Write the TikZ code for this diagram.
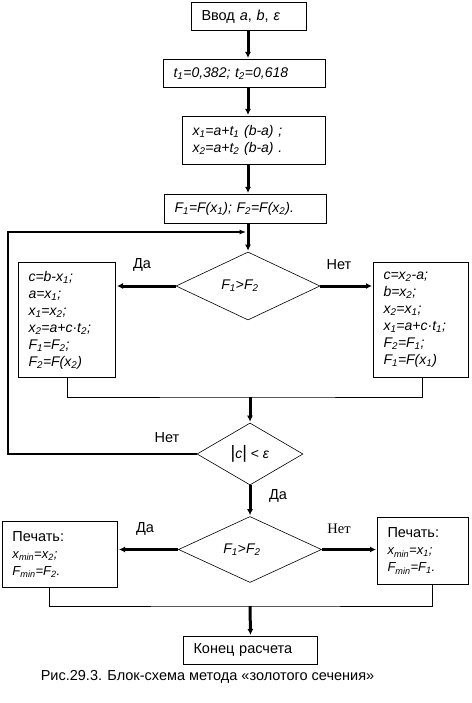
\documentclass[tikz,border=0pt]{standalone}
\usepackage{fontspec}
\setmainfont{Liberation Sans}
\newfontfamily\serifnet{Liberation Serif}
\usetikzlibrary{shapes.geometric,arrows.meta}
\newcommand\sbs[1]{\textsubscript{#1}}
\begin{document}
\begin{tikzpicture}[x=1pt,y=-1pt,
  every node/.style={font=\fontsize{14}{17}\selectfont},
  box/.style={draw,line width=1pt,rectangle,inner xsep=10pt,inner ysep=0pt,anchor=north west,align=left},
  dec/.style={draw,line width=0.6pt,diamond,inner sep=0pt},
  flow/.style={line width=3pt,-{Latex[length=6pt,width=6pt]},shorten >=1pt},
  thinline/.style={line width=1pt},
  loopline/.style={line width=1.5pt,-{Latex[length=7pt,width=5pt]}},
  lab/.style={inner sep=0pt,font=\fontsize{14.5}{17}\selectfont}]
\useasboundingbox (0,0) rectangle (471,703);

\node[box,minimum width=115,text width=95,minimum height=28,font=\fontsize{14.5}{17}\selectfont] (b1) at (191,2) {Ввод \textit{a}, \textit{b}, \textit{ε}};
\node[box,minimum width=162,text width=142,minimum height=28] (b2) at (163,59) {\textit{t\sbs{1}=0,382; t\sbs{2}=0,618}};
\node[box,minimum width=143,text width=123,minimum height=48] (b3) at (182,116) {\textit{x\sbs{1}=a+t\sbs{1} (b-a) ;}\\\textit{x\sbs{2}=a+t\sbs{2} (b-a) .}};
\node[box,minimum width=162,text width=142,minimum height=29] (b4) at (164,194) {\textit{F\sbs{1}=F(x\sbs{1}); F\sbs{2}=F(x\sbs{2}).}};

\node[dec,minimum width=144,minimum height=68] (d1) at (248,286) {\textit{F\sbs{1}}>\textit{F\sbs{2}}\hspace*{16pt}};

\node[box,minimum width=97,text width=77,minimum height=115] (L1) at (18,262) {\textit{c=b-x\sbs{1};}\\\textit{a=x\sbs{1};}\\\textit{x\sbs{1}=x\sbs{2};}\\\textit{x\sbs{2}=a+c·t\sbs{2};}\\\textit{F\sbs{1}=F\sbs{2};}\\\textit{F\sbs{2}=F(x\sbs{2})}};
\node[box,minimum width=95,text width=75,minimum height=115] (R1) at (373,262) {\textit{c=x\sbs{2}-a;}\\\textit{b=x\sbs{2};}\\\textit{x\sbs{2}=x\sbs{1};}\\\textit{x\sbs{1}=a+c·t\sbs{1};}\\\textit{F\sbs{2}=F\sbs{1};}\\\textit{F\sbs{1}=F(x\sbs{1})}};

\node[dec,minimum width=106,minimum height=62] (d2) at (250,454) {{\fontsize{18}{18}\selectfont|}\textit{c}{\fontsize{18}{18}\selectfont|} < \textit{ε}};
\node[dec,minimum width=143,minimum height=66] (d3) at (250,549.5) {\textit{F\sbs{1}}>\textit{F\sbs{2}}\hspace*{16pt}};

\node[box,minimum width=115,text width=95,minimum height=66] (P1) at (2,521) {{\fontsize{14.5}{18}\selectfont Печать:}\\{\fontsize{13}{18}\selectfont\textit{x\sbs{min}=x\sbs{2};}}\\{\fontsize{13}{18}\selectfont\textit{F\sbs{min}=F\sbs{2}.}}};
\node[box,minimum width=91,text width=71,minimum height=67] (P2) at (377,517) {{\fontsize{14.5}{18}\selectfont Печать:}\\{\fontsize{13}{18}\selectfont\textit{x\sbs{min}=x\sbs{1};}}\\{\fontsize{13}{18}\selectfont\textit{F\sbs{min}=F\sbs{1}.}}};

\node[box,minimum width=134,text width=114,minimum height=28,font=\fontsize{14.5}{17}\selectfont] (E) at (183,636) {Конец расчета};

\node[lab] (cap) at (207.5,677) {Рис.29.3. Блок-схема метода «золотого сечения»};

\node[lab] (yes1) at (142,265) {Да};
\node[lab] (no1) at (339,265) {Нет};
\node[lab] (no2) at (167,438) {Нет};
\node[lab] (yes2) at (278,496) {Да};
\node[lab] (yes3) at (145,529) {Да};
\node[lab] (no3) at (339,529) {\serifnet Нет};

\coordinate (m1) at (250,397);
\coordinate (m2) at (250,606);
\coordinate (lp) at (8,232);
\coordinate (lj) at (248,232);

\draw[flow] (b1.south -| lj) -- (b2.north -| lj);
\draw[flow] (b2.south -| lj) -- (b3.north -| lj);
\draw[flow] (b3.south -| lj) -- (b4.north -| lj);
\draw[flow] (b4.south -| lj) -- (d1.north);
\draw[flow] (d1.west) -- (d1.west -| L1.east);
\draw[flow] (d1.east) -- (d1.east -| R1.west);
\draw[thinline] (L1.south) |- (m1) -| ([xshift=1.5]R1.south);
\draw[flow] (m1) -- (d2.north);
\draw[loopline] (d2.west) -| (lp) -- ([xshift=-1.5]lj);
\draw[flow] (d2.south) -- (d3.north);
\draw[flow] (d3.west) -- (d3.west -| P1.east);
\draw[flow] (d3.east) -- (d3.east -| P2.west);
\draw[thinline] ([xshift=-10.5]P1.south) |- (m2) -| ([xshift=9.5]P2.south);
\draw[flow] (m2) -- (E.north);
\end{tikzpicture}
\end{document}
